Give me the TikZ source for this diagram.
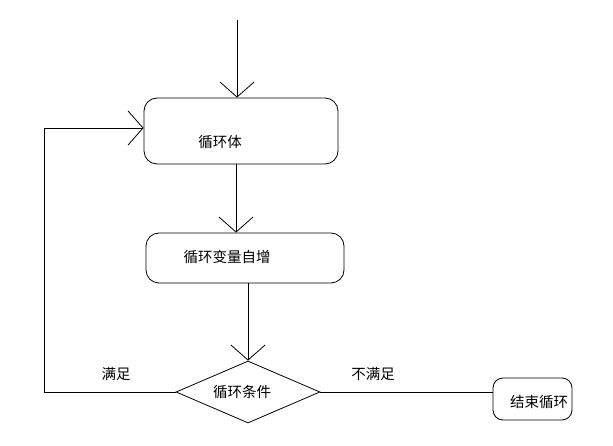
\documentclass[tikz,border=0pt]{standalone}
\usepackage{fontspec}
\newfontfamily\cjk{Noto Sans CJK SC}
\usetikzlibrary{arrows.meta,shapes.geometric}
\begin{document}
\begin{tikzpicture}[x=1pt,y=-1pt,
  line width=0.8pt,
  arr/.style={-{Straight Barb[length=15pt,width=34pt,line width=0.8pt]}},
  rbox/.style={draw,rounded corners=13pt,inner sep=0pt},
  txt/.style={font=\cjk\fontsize{14.5}{16}\selectfont,inner sep=0pt},
  dia/.style={draw,diamond,inner sep=0pt}]
\useasboundingbox[fill=white] (0,0) rectangle (613,446);
% shapes
\node[rbox,minimum width=194pt,minimum height=66pt] (b1) at (241,131) {};
\node[rbox,minimum width=198pt,minimum height=50pt] (b2) at (245,258) {};
\node[dia,minimum width=144pt,minimum height=62pt] (d) at (248,392) {};
\node[rbox,rounded corners=10pt,minimum width=79pt,minimum height=42pt] (e) at (532.5,399) {};
% texts
\node[txt] (t1) at (220,142) {循环体};
\node[txt] (t2) at (227,257) {循环变量自增};
\node[txt] (t3) at (242,392) {循环条件};
\node[txt] (t4) at (539,402) {结束循环};
\node[txt] (l1) at (116,374) {满足};
\node[txt] (l2) at (373,374) {不满足};
% coordinates
\coordinate (top) at (237,20);
\coordinate (c1) at (236,0);
\coordinate (lc) at (44,128);
% connectors
\draw[arr] (top) -- (top |- b1.north);
\draw[arr] (b1.south -| c1) -- (b2.north -| c1);
\draw[arr] (b2.south -| d.north) -- (d.north);
\draw[arr] (d.west) -| (lc) -- (lc -| b1.west);
\draw (d.east) -- (d.east -| e.west);
\end{tikzpicture}
\end{document}
